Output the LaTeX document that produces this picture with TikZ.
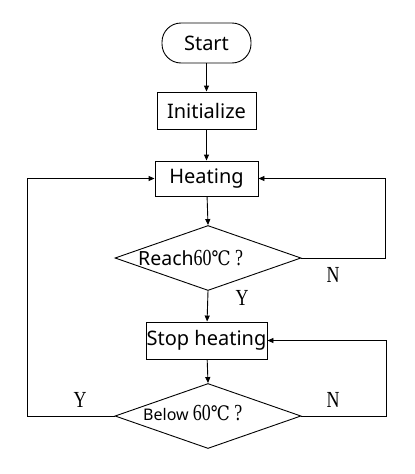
\documentclass[tikz,border=0pt]{standalone}
\usepackage{fontspec}
\setmainfont{Noto Sans}
\newfontfamily\nserif[FakeStretch=0.78]{Liberation Serif}
\newfontfamily\cserif[FakeStretch=0.85]{DejaVu Serif}
\usetikzlibrary{arrows.meta,shapes.geometric}
\begin{document}
\begin{tikzpicture}[x=1pt,y=-1pt,
  box/.style={draw, line width=0.9pt, minimum height=36pt, inner sep=0pt, font=\fontsize{20}{22}\selectfont},
  dia/.style={draw, diamond, line width=0.9pt, inner sep=0pt, minimum width=186pt, minimum height=65pt},
  yn/.style={font=\nserif\fontsize{23}{24}\selectfont, inner sep=0pt},
  arr/.style={-{Triangle[length=6pt,width=5pt]}, line width=0.9pt}]
\useasboundingbox (0,0) rectangle (415,474);
\node[box, rounded corners=19pt, minimum width=89pt, minimum height=40pt] (start) at (206.5,43) {Start};
\node[box, minimum width=99pt, minimum height=37pt] (init) at (206.5,110.5) {Initialize};
\node[box, minimum width=103pt, minimum height=35pt] (heat) at (206.5,178.5) {Heating};
\node[dia] (reach) at (208,258) {};
\node[inner sep=0pt, anchor=base west] (reachtxt) at (138,265) {\fontsize{19.5}{20}\selectfont Reach\nserif\fontsize{23}{22}\selectfont 60\cserif\fontsize{20}{20}\selectfont ℃\nserif\fontsize{23}{22}\selectfont\ ?};
\node[box, minimum width=121pt, minimum height=37pt] (stop) at (206.5,340.5) {Stop heating};
\node[dia] (below) at (208,416) {};
\node[inner sep=0pt, anchor=base west] (belowtxt) at (143,420) {\fontsize{16}{18}\selectfont Below \nserif\fontsize{23}{22}\selectfont 60\cserif\fontsize{20}{20}\selectfont ℃\nserif\fontsize{23}{22}\selectfont\ ?};
\node[yn] (y1) at (242,298) {Y};
\node[yn] (n1) at (333,275) {N};
\node[yn] (y2) at (80,400) {Y};
\node[yn] (n2) at (333,400) {N};
\coordinate (r1) at (385,258);
\coordinate (r2) at (385,178.5);
\coordinate (l1) at (27,416);
\coordinate (l2) at (27,178.5);
\coordinate (s1) at (386,416);
\coordinate (s2) at (386,340.5);
\draw[arr] (start) -- (init);
\draw[arr] (init) -- (heat);
\draw[arr] (heat) -- (reach.north);
\draw[arr] (reach.south) -- (stop);
\draw[arr] (stop) -- (below.north);
\draw[arr] (reach.east) -- (r1) -- (r2) -- (heat.east);
\draw[arr] (below.west) -- (l1) -- (l2) -- (heat.west);
\draw[arr] (below.east) -- (s1) -- (s2) -- (stop.east);
\end{tikzpicture}
\end{document}
